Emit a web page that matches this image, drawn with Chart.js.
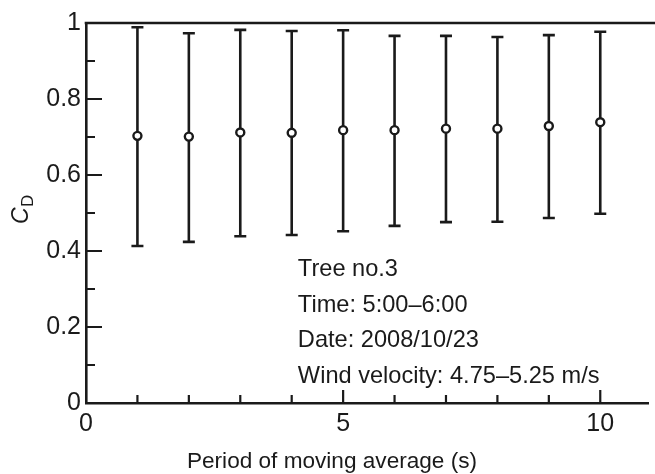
<!DOCTYPE html>
<html>
<head>
<meta charset="utf-8">
<script src="https://cdn.jsdelivr.net/npm/chart.js@4.4.0/dist/chart.umd.min.js"></script>
<style>
html, body { margin: 0; padding: 0; background: #fff; }
</style>
</head>
<body>
<canvas id="mycanvas" width="655" height="474"></canvas>
<script>
// period of moving average (s) and drag coefficient C_D
var period = [1, 2, 3, 4, 5, 6, 7, 8, 9, 10];
var cdMean = [0.703, 0.701, 0.712, 0.711, 0.718, 0.718, 0.722, 0.722, 0.729, 0.739];
var cdUpper = [0.989, 0.973, 0.982, 0.979, 0.981, 0.966, 0.966, 0.963, 0.968, 0.977];
var cdLower = [0.413, 0.424, 0.439, 0.442, 0.452, 0.466, 0.476, 0.477, 0.487, 0.498];

var xTickLabels = [0, 5, 10];
var yTickLabels = [0, 0.2, 0.4, 0.6, 0.8, 1];
var notes = ["Tree no.3", "Time: 5:00\u20136:00", "Date: 2008/10/23", "Wind velocity: 4.75\u20135.25 m/s"];

var ink = "#1a1a1a";
var fontFam = "'Liberation Sans', Arial, sans-serif";

var points = [];
for (var i = 0; i < period.length; i++) {
	points.push({x: period[i], y: cdMean[i]});
}

var figPlugin = {
	id: "fig",
	beforeDatasetsDraw: function(chart) {
		// error bars under the circles
		var ctx = chart.ctx, xs = chart.scales.x, ys = chart.scales.y;
		ctx.save();
		ctx.strokeStyle = ink;
		ctx.lineWidth = 2.6;
		for (var i = 0; i < period.length; i++) {
			var px = xs.getPixelForValue(period[i]);
			var top = ys.getPixelForValue(cdUpper[i]);
			var bot = ys.getPixelForValue(cdLower[i]);
			ctx.beginPath();
			ctx.moveTo(px, top); ctx.lineTo(px, bot);
			ctx.moveTo(px - 6, top); ctx.lineTo(px + 6, top);
			ctx.moveTo(px - 6, bot); ctx.lineTo(px + 6, bot);
			ctx.stroke();
		}
		ctx.restore();
	},
	afterDraw: function(chart) {
		var ctx = chart.ctx, xs = chart.scales.x, ys = chart.scales.y;
		var area = chart.chartArea;
		ctx.save();
		ctx.strokeStyle = ink;

		// top frame line
		ctx.lineWidth = 2.6;
		ctx.beginPath();
		ctx.moveTo(area.left - 1.3, area.top);
		ctx.lineTo(chart.width, area.top);
		ctx.stroke();

		// inward tick marks
		ctx.lineWidth = 2.2;
		ctx.beginPath();
		for (var v = 1; v <= 10; v++) {
			var px = xs.getPixelForValue(v);
			var len = (v % 5 === 0) ? 13 : 8;
			ctx.moveTo(px, area.bottom);
			ctx.lineTo(px, area.bottom - len);
		}
		for (var k = 1; k <= 9; k++) {
			var py = ys.getPixelForValue(k / 10);
			var ylen = (k % 2 === 0) ? 16 : 9;
			ctx.moveTo(area.left, py);
			ctx.lineTo(area.left + ylen, py);
		}
		ctx.moveTo(area.left, area.bottom);
		ctx.lineTo(area.left + 16, area.bottom);
		ctx.stroke();

		ctx.fillStyle = ink;
		ctx.textBaseline = "alphabetic";

		// annotation block
		ctx.font = "23.6px " + fontFam;
		ctx.textAlign = "left";
		var nx = xs.getPixelForValue(4.12);
		for (var n = 0; n < notes.length; n++) {
			ctx.fillText(notes[n], nx, 276 + n * 35.7);
		}

		// x axis title
		ctx.font = "22.6px " + fontFam;
		ctx.textAlign = "center";
		ctx.fillText("Period of moving average (s)", 332, 468);

		// y axis title C_D
		ctx.save();
		ctx.translate(28, 224);
		ctx.rotate(-Math.PI / 2);
		ctx.textAlign = "left";
		ctx.font = "italic 23px " + fontFam;
		ctx.fillText("C", 0, 0);
		var w = ctx.measureText("C").width;
		ctx.font = "17px " + fontFam;
		ctx.fillText("D", w + 0.5, 5);
		ctx.restore();

		ctx.restore();
	}
};

var ctx = document.getElementById("mycanvas");

var chart = new Chart(ctx, {
	type: "scatter",
	data: {
		datasets: [
			{
				label: "C_D",
				data: points,
				showLine: false,
				pointRadius: 4,
				pointHoverRadius: 4,
				borderWidth: 2.4,
				borderColor: ink,
				pointBackgroundColor: "#fff",
				backgroundColor: "#fff"
			}
		]
	},
	options: {
		responsive: false,
		animation: false,
		devicePixelRatio: 1,
		layout: {padding: {top: 23, right: 0, left: 0, bottom: 0}},
		plugins: {legend: {display: false}, tooltip: {enabled: false}},
		scales: {
			x: {
				type: "linear",
				min: 0,
				max: 10.94,
				grid: {display: false, drawTicks: false},
				border: {display: true, color: ink, width: 2.6},
				ticks: {
					stepSize: 1,
					includeBounds: false,
					maxRotation: 0,
					autoSkip: false,
					padding: 6,
					color: ink,
					font: {family: fontFam, size: 25},
					callback: function(v) {
						return xTickLabels.indexOf(v) >= 0 ? String(v) : null;
					}
				},
				afterFit: function(scale) { scale.height = 71; }
			},
			y: {
				type: "linear",
				min: 0,
				max: 1,
				grid: {display: false, drawTicks: false},
				border: {display: true, color: ink, width: 2.6},
				ticks: {
					stepSize: 0.1,
					autoSkip: false,
					padding: 5,
					color: ink,
					font: {family: fontFam, size: 25},
					callback: function(v) {
						var r = Math.round(v * 10) / 10;
						return yTickLabels.indexOf(r) >= 0 ? String(r) : null;
					}
				},
				afterFit: function(scale) { scale.width = 86; }
			}
		}
	},
	plugins: [figPlugin]
});
</script>
</body>
</html>
